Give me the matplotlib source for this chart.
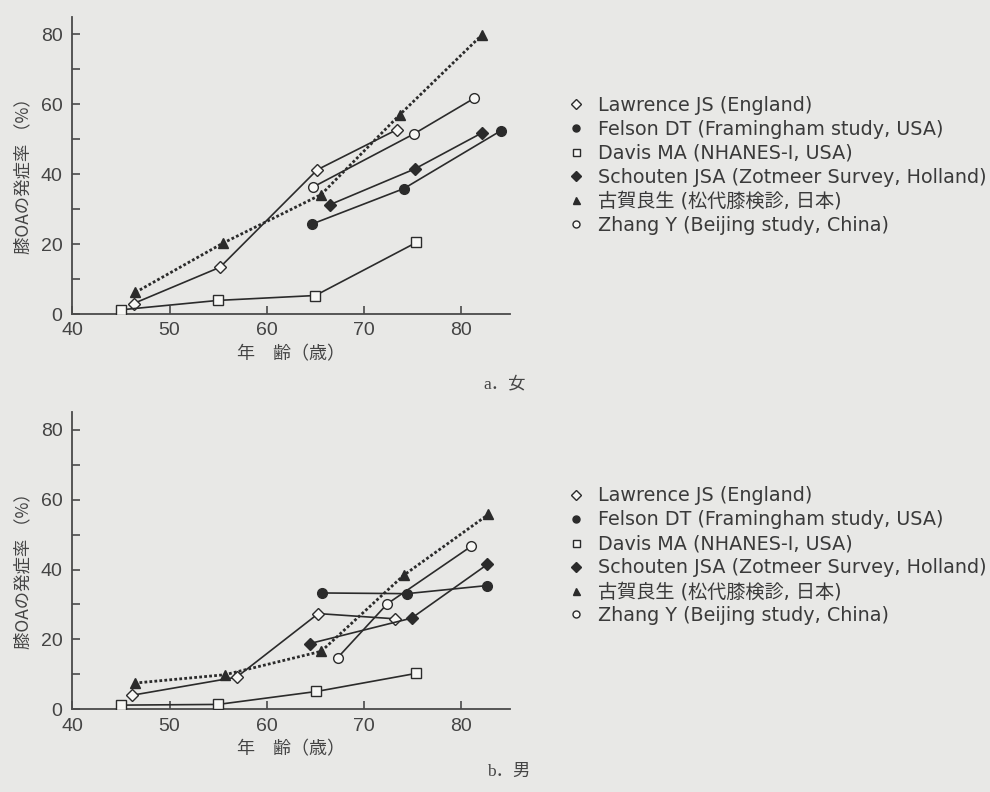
import numpy as np
import matplotlib
matplotlib.use('Agg')
import matplotlib.pyplot as plt
from matplotlib.lines import Line2D

plt.rcParams['font.family'] = ['Liberation Sans', 'Noto Sans CJK JP']

#####
# Data: knee OA prevalence (%) by age, women (a) and men (b)
#####

studies = ['Lawrence JS (England)',
           'Felson DT (Framingham study, USA)',
           'Davis MA (NHANES-I, USA)',
           'Schouten JSA (Zotmeer Survey, Holland)',
           '古賀良生 (松代膝検診, 日本)',
           'Zhang Y (Beijing study, China)']

# women
f_lawrence_age = [46.3, 55.2, 65.2, 73.4]
f_lawrence_pct = [3.0, 13.4, 41.3, 52.8]
f_felson_age = [64.7, 74.1, 84.1]
f_felson_pct = [25.8, 35.9, 52.5]
f_davis_age = [45.0, 55.0, 65.0, 75.4]
f_davis_pct = [1.2, 3.9, 5.3, 20.5]
f_schouten_age = [66.5, 75.2, 82.1]
f_schouten_pct = [31.3, 41.5, 51.8]
f_koga_age = [46.5, 55.5, 65.6, 73.7, 82.1]
f_koga_pct = [6.2, 20.3, 34.2, 57.1, 79.8]
f_zhang_age = [64.8, 75.1, 81.3]
f_zhang_pct = [36.4, 51.5, 61.7]

# men
m_lawrence_age = [46.1, 56.9, 65.3, 73.2]
m_lawrence_pct = [4.0, 9.2, 27.4, 25.9]
m_felson_age = [65.7, 74.4, 82.6]
m_felson_pct = [33.3, 33.1, 35.4]
m_davis_age = [45.0, 55.0, 65.1, 75.4]
m_davis_pct = [1.2, 1.4, 5.1, 10.3]
m_schouten_age = [64.4, 74.9, 82.7]
m_schouten_pct = [18.8, 26.1, 41.5]
m_koga_age = [46.4, 55.7, 65.6, 74.1, 82.8]
m_koga_pct = [7.5, 9.9, 16.6, 38.4, 55.8]
m_zhang_age = [67.3, 72.4, 81.0]
m_zhang_pct = [14.8, 30.2, 46.6]

women = [(f_lawrence_age, f_lawrence_pct), (f_felson_age, f_felson_pct),
         (f_davis_age, f_davis_pct), (f_schouten_age, f_schouten_pct),
         (f_koga_age, f_koga_pct), (f_zhang_age, f_zhang_pct)]
men = [(m_lawrence_age, m_lawrence_pct), (m_felson_age, m_felson_pct),
       (m_davis_age, m_davis_pct), (m_schouten_age, m_schouten_pct),
       (m_koga_age, m_koga_pct), (m_zhang_age, m_zhang_pct)]

#####
# Styles
#####

paper = '#e8e8e6'
ink = '#2b2b2b'
grey_text = '#444444'
hollow = '#f7f7f5'

styles = [dict(marker='D', ms=6.5, mfc=hollow),
          dict(marker='o', ms=7, mfc=ink),
          dict(marker='s', ms=7, mfc=hollow),
          dict(marker='D', ms=6.5, mfc=ink),
          dict(marker='^', ms=7, mfc=ink),
          dict(marker='o', ms=7, mfc=hollow)]


def draw_panel(ax, series):
    """Plots one age/prevalence panel with the six studies"""
    for i, (age, pct) in enumerate(series):
        st = styles[i]
        if i == 4:
            ls, lw = (0, (1, 0.8)), 2.0
        else:
            ls, lw = '-', 1.2
        ax.plot(age, pct, linestyle=ls, linewidth=lw, color=ink,
                marker=st['marker'], markersize=st['ms'],
                markerfacecolor=st['mfc'], markeredgecolor=ink,
                markeredgewidth=1.0, zorder=3 + i * 0.1)
    ax.set_xlim(40, 85)
    ax.set_ylim(0, 85)
    ax.set_xticks([40, 50, 60, 70, 80])
    ax.set_yticks([0, 20, 40, 60, 80])
    ax.set_yticks([10, 30, 50, 70], minor=True)
    ax.set_facecolor('none')
    for side in ['top', 'right']:
        ax.spines[side].set_visible(False)
    for side in ['left', 'bottom']:
        ax.spines[side].set_color('#4a4a4a')
        ax.spines[side].set_linewidth(1.3)
    ax.tick_params(which='both', direction='in', length=6, width=1.2,
                   color='#4a4a4a', labelsize=14, labelcolor=grey_text)
    ax.tick_params(axis='y', which='minor', length=5.5)
    ax.tick_params(axis='y', pad=7)
    ax.tick_params(axis='x', pad=6)
    ax.set_ylabel('膝OAの発症率 （%）', fontsize=12.5, color=grey_text,
                  family=['Noto Sans CJK JP'])
    ax.yaxis.set_label_coords(-0.092, 0.48)
    ax.set_xlabel('年　齢（歳）', fontsize=13, color=grey_text, labelpad=4,
                  family=['Noto Sans CJK JP'])


def draw_legend(fig, top):
    """Marker-only key placed to the right of a panel"""
    handles = []
    for st in styles:
        handles.append(Line2D([], [], linestyle='none', color=ink,
                              marker=st['marker'], markersize=st['ms'] * 0.72,
                              markerfacecolor=st['mfc'], markeredgecolor=ink,
                              markeredgewidth=1.0))
    fig.legend(handles, studies, loc='upper left', bbox_to_anchor=(0.574, top),
               frameon=False, handlelength=0.8, handletextpad=0.75,
               labelspacing=0.26, borderaxespad=0, borderpad=0,
               labelcolor='#3a3a3a',
               prop={'family': ['DejaVu Sans', 'Noto Sans CJK JP'], 'size': 13.8})


fig = plt.figure(figsize=(9.9, 7.92), dpi=100, facecolor=paper)

ax_a = fig.add_axes([0.0730, 0.6035, 0.442, 0.375])
draw_panel(ax_a, women)
ax_b = fig.add_axes([0.0730, 0.1044, 0.442, 0.375])
draw_panel(ax_b, men)

draw_legend(fig, 0.879)
draw_legend(fig, 0.386)

fig.text(0.488, 0.515, 'a．女', fontsize=12.5, color=grey_text,
         family=['Liberation Serif', 'Noto Sans CJK JP'], ha='left', va='center')
fig.text(0.492, 0.025, 'b．男', fontsize=12.5, color=grey_text,
         family=['Liberation Serif', 'Noto Sans CJK JP'], ha='left', va='center')

fig.savefig('out.png', dpi=100, facecolor=paper)
